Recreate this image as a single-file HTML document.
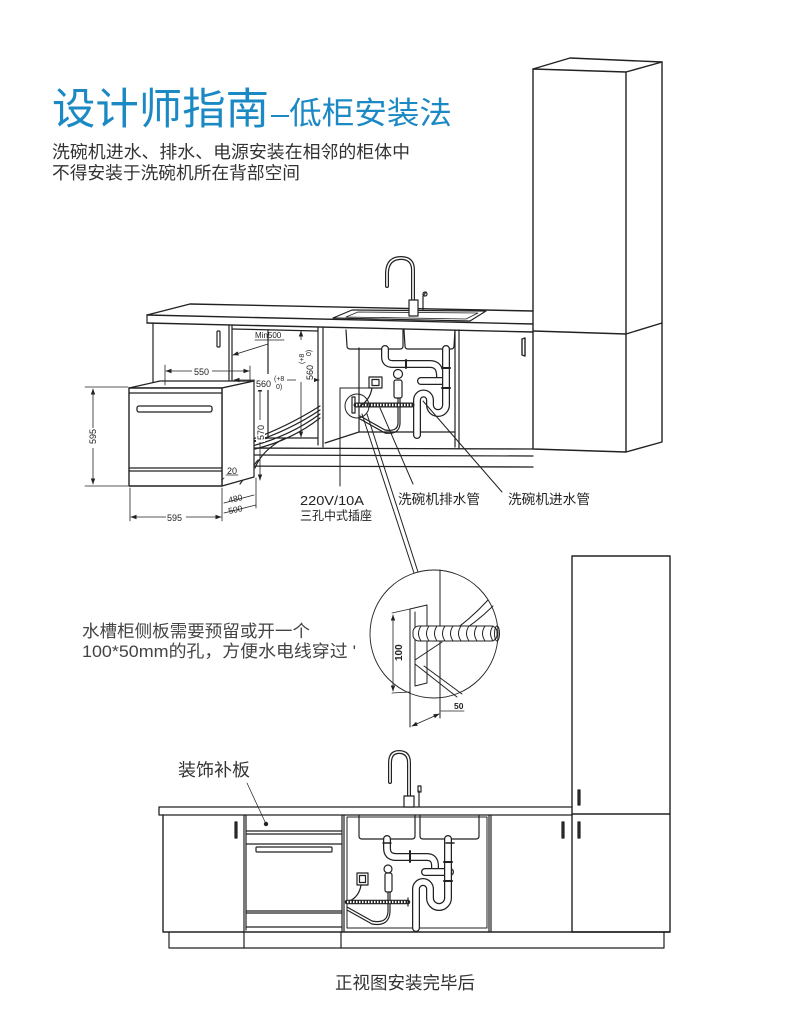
<!DOCTYPE html>
<html><head><meta charset="utf-8">
<style>
html,body{margin:0;padding:0;background:#fff;}
svg{display:block;}
text{font-family:"Liberation Sans","Noto Sans CJK SC",sans-serif;}
</style></head><body>
<svg width="790" height="1032" viewBox="0 0 790 1032" xmlns="http://www.w3.org/2000/svg">
<defs>
<marker id="ar" markerWidth="6" markerHeight="6" refX="5.5" refY="3" orient="auto-start-reverse" markerUnits="userSpaceOnUse"><path d="M0 0.8 L6 3 L0 5.2 Z" fill="#222"/></marker>
</defs>

<!-- Titles -->
<text x="52" y="124" font-size="43" fill="#1b89c3" textLength="217" lengthAdjust="spacingAndGlyphs">设计师指南</text>
<text x="271" y="124" font-size="31" fill="#1b89c3" textLength="181" lengthAdjust="spacingAndGlyphs">–低柜安装法</text>
<text x="52" y="158" font-size="17.5" fill="#333" textLength="358" lengthAdjust="spacingAndGlyphs">洗碗机进水、排水、电源安装在相邻的柜体中</text>
<text x="52" y="179" font-size="17.5" fill="#333" textLength="248" lengthAdjust="spacingAndGlyphs">不得安装于洗碗机所在背部空间</text>

<g fill="none" stroke="#222" stroke-width="1.2" stroke-linejoin="round" stroke-linecap="round">
<!-- ============ TOP PERSPECTIVE ============ -->
<!-- tall cabinet -->
<path d="M533 69 L626 72 L626 452 L533 449 Z" stroke-width="1.4"/>
<path d="M533 69 L570 58 L662 62 L626 72" stroke-width="1.4"/>
<path d="M626 452 L662 442 L662 62" stroke-width="1.4"/>
<path d="M533 331 L626 334 L662 323" stroke-width="1.4"/>

<!-- countertop -->
<path d="M147 315 L190 304 L533 311" stroke-width="1.4"/>
<path d="M147 315 L533 324" stroke-width="1.4"/>
<path d="M147 323 L533 332" stroke-width="1.4"/>
<path d="M147 315 L147 323"/>
<!-- sink rim -->
<path d="M333 318 L352 310 L486 311 L470 321 Z"/>
<path d="M346 317 L358 312 L478 313 L466 319 Z" stroke-width="0.8"/>
<!-- faucet top -->
<path d="M413 302 L413 270 Q413 258 401 258 Q388 258 387 272 L387 286" stroke-width="4"/>
<path d="M413 302 L413 270 Q413 258 401 258 Q388 258 387 272 L387 286" stroke="#fff" stroke-width="1.6"/>
<rect x="409" y="300" width="9" height="16" fill="#fff"/>
<path d="M423 310 L423 296 L426 292"/>
<circle cx="425" cy="294" r="2"/>

<!-- lower cabinets (top view) -->
<path d="M153 323 L153 390"/>
<rect x="217" y="331" width="3" height="16" rx="1"/>
<path d="M229 325 L229 448"/>
<path d="M232 326 L232 446"/>
<path d="M232 329 L318 331"/>
<path d="M268 330 L268 438"/>
<path d="M233 445 L268 438 L318 438"/>
<path d="M318 327 L318 445"/>
<path d="M323 327 L323 447"/>
<!-- sink cabinet -->
<path d="M455 330 L455 447"/>
<path d="M459 330 L459 448"/>
<path d="M359 348 L359 432"/>
<path d="M325 443 L359 432 L455 432"/>
<!-- right cabinet handle -->
<path d="M522 339 L525 338 L525 356 L522 355 Z" stroke-width="1.4"/>
<!-- base lines -->
<path d="M229 448 L533 449" stroke-width="1.3"/>
<path d="M250 455 L533 456"/>
<path d="M225 466 L533 467" stroke-width="1.3"/>

<!-- hoses in cavity -->
<path d="M250 440 Q285 428 320 406"/>
<path d="M250 443 Q287 432 320 410"/>
<path d="M252 446 Q290 436 320 414"/>
<path d="M255 449 Q292 440 320 418"/>
<path d="M255 468 Q262 450 285 438"/>
<path d="M240 484 Q250 470 258 460"/>

<!-- sink bowls -->
<path d="M346 330 L347 346 Q347 349 350 349 L400 349 Q403 349 403 346 L403 330"/>
<path d="M404 330 L405 346 Q405 349 408 349 L451 349 Q454 349 454 346 L455 330"/>
<!-- drain pipes -->
<path id="d1" d="M385 349 L385 357 Q385 364 393 364 L430 364 Q440 364 440 376 L440 381" stroke-width="8"/>
<path d="M385 349 L385 357 Q385 364 393 364 L430 364 Q440 364 440 376 L440 381" stroke="#fff" stroke-width="5.5"/>
<path d="M421 381 L446 381" stroke-width="8"/>
<path d="M421 381 L446 381" stroke="#fff" stroke-width="5.5"/>
<path d="M446 349 L446 405 A8 8 0 0 1 430 405 L430 400 A6.5 6.5 0 0 0 417 400 L417 435" stroke-width="8"/>
<path d="M446 349 L446 405 A8 8 0 0 1 430 405 L430 400 A6.5 6.5 0 0 0 417 400 L417 435" stroke="#fff" stroke-width="5.5"/>
<path d="M406 360 L406 368" stroke-width="2"/>
<path d="M442 368 L450 368 M442 388 L450 388" stroke-width="2"/>
<!-- valve / inlet -->
<circle cx="398" cy="374" r="4.5" fill="#fff"/>
<rect x="394" y="380" width="8" height="18" rx="2" fill="#fff"/>
<path d="M398 398 L398 424 Q397 432 385 430 L360 416"/>
<path d="M400 398 L400 424 Q399 435 385 433 L360 419"/>
<!-- corrugated drain hose -->
<path d="M356 405 L412 405" stroke-width="5"/>
<path d="M356 405 L412 405" stroke="#fff" stroke-width="2.5" stroke-dasharray="1.5 1.5" stroke-linecap="butt"/>
<!-- socket -->
<rect x="369" y="377" width="13" height="11" fill="#fff"/>
<rect x="372" y="379.5" width="7" height="6"/>
<path d="M372 388 Q370 400 360 406"/>
<rect x="352" y="397" width="3" height="16"/>
<circle cx="357" cy="406" r="12" stroke-width="1"/>

<!-- callout leaders -->
<path d="M340 388 L375 388 M340 388 L340 486" stroke-width="1"/>
<path d="M380 408 L413 484" stroke-width="1"/>
<path d="M423 401 L502 492" stroke-width="1"/>
<path d="M362 414 L414 573" stroke-width="1"/>
<path d="M367 414 L418 572" stroke-width="1"/>

<!-- dishwasher -->
<path d="M129 388 L160 381 L254 381 L222 388 Z" fill="#fff"/>
<path d="M222 388 L254 381 L254 477 L222 486 Z" fill="#fff"/>
<rect x="129" y="388" width="93" height="98" fill="#fff" stroke-width="1.4"/>
<path d="M129 393 L222 393"/>
<rect x="137" y="406" width="75" height="6" rx="2" stroke-width="1.3"/>
<path d="M129 468 L222 468 M129 471 L222 471"/>

<!-- dimensions -->
<g stroke-width="0.8">
<path d="M85 387 L128 387 M85 486 L128 486"/>
<path d="M93 389 L93 484" marker-start="url(#ar)" marker-end="url(#ar)"/>
<path d="M130 488 L130 521 M222 488 L222 521"/>
<path d="M131 517 L221 517" marker-start="url(#ar)" marker-end="url(#ar)"/>
<path d="M224 503 L254 495 M224 513 L256 505"/>
<path d="M256 478 L256 508"/>
<path d="M260 386 L260 480" marker-start="url(#ar)" marker-end="url(#ar)"/>
<path d="M226 475 L238 475 M224 478 L222 480"/>
<path d="M165 365 L165 385 M250 366 L250 382"/>
<path d="M166 371 L249 371" marker-start="url(#ar)" marker-end="url(#ar)"/>
<path d="M233 355 L268 344" marker-start="url(#ar)"/>
<path d="M255 340 L284 340"/>
<path d="M234 380 L319 380" marker-start="url(#ar)" marker-end="url(#ar)"/>
<path d="M301 331 L301 437" marker-start="url(#ar)" marker-end="url(#ar)"/>
</g>
</g>

<!-- dimension labels -->
<g font-size="9" fill="#222">
<rect x="84" y="428" width="14" height="20" fill="#fff"/>
<text x="0" y="0" transform="translate(96,444) rotate(-90)">595</text>
<rect x="166" y="512" width="20" height="10" fill="#fff"/>
<text x="167" y="521">595</text>
<text x="229" y="503" font-size="8.5" transform="rotate(-12 229 503)">480</text>
<text x="229" y="514" font-size="8.5" transform="rotate(-12 229 514)">500</text>
<rect x="256" y="420" width="9" height="22" fill="#fff"/>
<text x="0" y="0" transform="translate(264,440) rotate(-90)">570</text>
<text x="227" y="474">20</text>
<rect x="192" y="366" width="20" height="10" fill="#fff"/>
<text x="194" y="375">550</text>
<text x="255" y="338" font-size="8">Min500</text>
<rect x="255" y="374" width="32" height="16" fill="#fff"/>
<text x="256" y="387">560</text>
<text x="274" y="381" font-size="7">(+8</text>
<text x="276" y="389" font-size="7">0)</text>
<rect x="296" y="340" width="18" height="42" fill="#fff"/>
<text x="0" y="0" transform="translate(313,380) rotate(-90)">560</text>
<text x="0" y="0" font-size="7" transform="translate(304,364) rotate(-90)">(+8</text>
<text x="0" y="0" font-size="7" transform="translate(311,356) rotate(-90)">0)</text>
</g>

<!-- callout labels -->
<g fill="#222">
<text x="300" y="505" font-size="13" textLength="64" lengthAdjust="spacingAndGlyphs">220V/10A</text>
<text x="300" y="520" font-size="12.5" textLength="72" lengthAdjust="spacingAndGlyphs">三孔中式插座</text>
<text x="398" y="504" font-size="13.5" textLength="82" lengthAdjust="spacingAndGlyphs">洗碗机排水管</text>
<text x="508" y="504" font-size="13.5" textLength="82" lengthAdjust="spacingAndGlyphs">洗碗机进水管</text>
</g>

<!-- ============ DETAIL CIRCLE ============ -->
<g fill="none" stroke="#222" stroke-width="1" stroke-linejoin="round" stroke-linecap="round">
<circle cx="434" cy="634" r="64" stroke-width="0.9"/>
<path d="M440 570 L440 718"/>
<path d="M410 609 L410 727"/>
<path d="M410 609 L427 605 L427 683 L415 686 L415 612"/>
<path d="M415 660 L442 642"/>
<path d="M415 664 L457 697"/>
<path d="M424 666 L462 694"/>
<path d="M443 638 Q468 622 488 600"/>
<path d="M449 639 Q474 625 493 606"/>
<rect x="413" y="626" width="84" height="15" rx="6" fill="#fff"/>
<path d="M421 626 Q416 633.5 421 641 M429 626 Q424 633.5 429 641 M437 626 Q432 633.5 437 641 M445 626 Q440 633.5 445 641 M453 626 Q448 633.5 453 641 M461 626 Q456 633.5 461 641 M469 626 Q464 633.5 469 641 M477 626 Q472 633.5 477 641 M485 626 Q480 633.5 485 641 M493 626 Q488 633.5 493 641"/>
<ellipse cx="497" cy="633.5" rx="2.5" ry="7.5"/>
<path d="M392 613 L410 609 M392 693 L410 692" stroke-width="0.8"/>
<path d="M393 615 L393 691" stroke-width="0.8" marker-start="url(#ar)" marker-end="url(#ar)"/>
<path d="M412 726 L439 714" stroke-width="0.8" marker-start="url(#ar)" marker-end="url(#ar)"/>
<path d="M441 711 L464 711" stroke-width="0.8"/>
</g>
<text x="0" y="0" font-size="10" font-weight="bold" fill="#222" transform="translate(402,661) rotate(-90)">100</text>
<text x="454" y="709" font-size="8.5" font-weight="bold" fill="#222">50</text>

<!-- middle note -->
<text x="82" y="637" font-size="17" fill="#444" textLength="228" lengthAdjust="spacingAndGlyphs">水槽柜侧板需要预留或开一个</text>
<text x="82" y="657" font-size="17" fill="#444" textLength="274" lengthAdjust="spacingAndGlyphs">100*50mm的孔，方便水电线穿过 '</text>

<!-- ============ FRONT VIEW ============ -->
<text x="178" y="776" font-size="17.5" fill="#333" textLength="72" lengthAdjust="spacingAndGlyphs">装饰补板</text>
<g fill="none" stroke="#222" stroke-width="1.2" stroke-linejoin="round" stroke-linecap="round">
<path d="M247 783 L266 824" stroke-width="0.7"/>
<circle cx="266" cy="824" r="1.6" fill="#222"/>
<!-- tall cabinet -->
<rect x="572" y="556" width="98" height="376" stroke-width="1.4"/>
<path d="M572 814 L670 814" stroke-width="1.4"/>
<rect x="578" y="790" width="2" height="15" fill="#333"/>
<rect x="578" y="822" width="2" height="16" fill="#333"/>
<rect x="562" y="822" width="2" height="16" fill="#333"/>
<rect x="235" y="822" width="2" height="16" fill="#333"/>
<!-- countertop -->
<path d="M159 807 L572 807 M159 815 L572 815 M159 807 L159 815" stroke-width="1.3"/>
<!-- cabinets -->
<path d="M163 815 L163 932 M163 932 L670 932" stroke-width="1.4"/>
<path d="M244 815 L244 932 M246 815 L246 930"/>
<path d="M342 815 L342 932 M344 815 L344 932"/>
<path d="M347 817 L487 817 L487 928 L347 928 Z" stroke-width="1"/>
<path d="M489 815 L489 932 M491 815 L491 932"/>
<!-- plinth -->
<path d="M169 932 L169 948 L664 948 L664 932"/>
<path d="M244 932 L244 948 M341 932 L341 948"/>
<!-- dishwasher / panel -->
<path d="M246 831 L342 831 M246 834 L342 834 M246 844 L342 844"/>
<rect x="256" y="847" width="76" height="5" rx="1"/>
<path d="M246 911 L342 911 M246 913 L342 913 M246 927 L342 927"/>
<!-- faucet -->
<path d="M409 798 L409 763 Q409 752 399 752 Q390 752 390 763 L390 782" stroke-width="4"/>
<path d="M409 798 L409 763 Q409 752 399 752 Q390 752 390 763 L390 782" stroke="#fff" stroke-width="1.6"/>
<rect x="404" y="796" width="10" height="11" fill="#fff"/>
<path d="M419 806 L419 791"/>
<rect x="418" y="786" width="3" height="6"/>
<!-- bowls -->
<path d="M359 815 L359 836 Q359 839 362 839 L412 839 Q415 839 415 836 L415 815"/>
<path d="M420 815 L420 836 Q420 839 423 839 L476 839 Q479 839 479 836 L479 815"/>
<!-- pipes -->
<path d="M387 839 L387 848 Q387 857 396 857 L427 857 Q435 857 435 866 L435 872" stroke-width="8"/>
<path d="M387 839 L387 848 Q387 857 396 857 L427 857 Q435 857 435 866 L435 872" stroke="#fff" stroke-width="5.5"/>
<path d="M425 872 L450 872" stroke-width="8"/>
<path d="M425 872 L450 872" stroke="#fff" stroke-width="5.5"/>
<path d="M448 839 L448 898 A9 9 0 0 1 430 898 L430 889 A7 7 0 0 0 416 889 L416 928" stroke-width="8"/>
<path d="M448 839 L448 898 A9 9 0 0 1 430 898 L430 889 A7 7 0 0 0 416 889 L416 928" stroke="#fff" stroke-width="5.5"/>
<path d="M410 851 L410 862" stroke-width="2"/>
<path d="M444 862 L452 862 M444 881 L452 881" stroke-width="2"/>
<path d="M383 843 L391 843 M446 843 L454 843" stroke-width="1.5"/>
<!-- socket -->
<rect x="357" y="873" width="11" height="12" fill="#fff"/>
<rect x="359.5" y="875.5" width="6" height="7"/>
<path d="M361 885 Q359 898 347 902"/>
<!-- valve -->
<circle cx="388" cy="869" r="4" fill="#fff"/>
<rect x="385" y="873" width="7" height="19" rx="2" fill="#fff"/>
<path d="M388 892 L388 912 Q387 924 372 921 L347 907"/>
<path d="M390 892 L390 912 Q389 927 372 924 L347 910"/>
<!-- corrugated hose -->
<path d="M347 902 L408 902" stroke-width="4.5"/>
<path d="M347 902 L408 902" stroke="#fff" stroke-width="2.2" stroke-dasharray="1.5 1.5" stroke-linecap="butt"/>
<path d="M408 898 L408 906"/>
</g>

<text x="335" y="989" font-size="17.5" fill="#333" textLength="140" lengthAdjust="spacingAndGlyphs">正视图安装完毕后</text>
</svg>
</body></html>
